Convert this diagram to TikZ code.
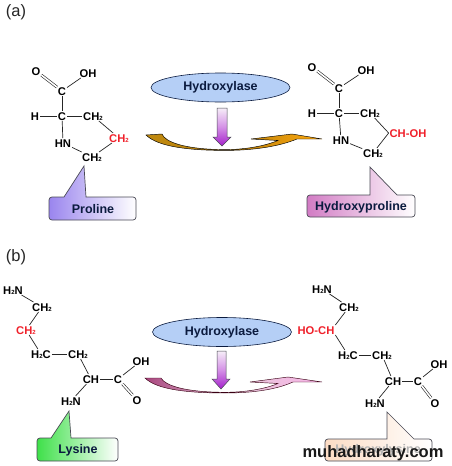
\documentclass[tikz,border=0pt]{standalone}
\usepackage{fontspec}
\setmainfont{Liberation Sans}
\definecolor{navy}{HTML}{0B1B3F}
\definecolor{edgegray}{HTML}{4A4A55}
\definecolor{ellfill}{HTML}{B5CFF6}
\definecolor{atomred}{HTML}{F0202A}
\definecolor{arrowtop}{HTML}{F6EEF8}
\definecolor{arrowmid}{HTML}{D490E6}
\definecolor{arrowbot}{HTML}{A41FCB}
\definecolor{goldL}{HTML}{C08A10}
\definecolor{goldM}{HTML}{B87E08}
\definecolor{goldR}{HTML}{FFAA10}
\definecolor{pinkL}{HTML}{A8467E}
\definecolor{pinkM}{HTML}{E8C8DA}
\definecolor{pinkR}{HTML}{F6B4E6}
\definecolor{boxP}{HTML}{9A85EE}
\definecolor{boxH}{HTML}{D27CC4}
\definecolor{boxL}{HTML}{3FE04A}
\definecolor{boxY}{HTML}{FCDCC4}
\newcommand{\two}{\raisebox{-0.3pt}{\fontsize{6}{6}\selectfont 2}}
\newcommand{\callout}[8]{% x1 y1 x2 y2 tip-x tip-y base-left base-right ; colour set by style
  \draw[callbox] (#1,#2+3) [rounded corners=3pt] -- (#1,#4) -- (#3,#4) -- (#3,#2) [sharp corners] -- (#8,#2) -- (#5,#6) -- (#7,#2) [rounded corners=3pt] -- (#1,#2) [sharp corners] -- cycle;}
\tikzset{
  atom/.style={font=\fontsize{11.2}{11.2}\selectfont\bfseries, text=black, inner sep=0.8pt, text height=8pt, text depth=0pt},
  redatom/.style={atom, text=atomred},
  bond/.style={draw=black!85, line width=0.7pt},
  dbl/.style={bond, double, double distance=1.6pt, line width=0.6pt},
  enz/.style={ellipse, draw=navy, line width=0.6pt, fill=ellfill, minimum width=139pt, minimum height=29pt, inner sep=0pt, font=\fontsize{12.5}{12.5}\selectfont\bfseries, text=navy},
  callbox/.style={draw=edgegray, line width=0.7pt},
  calltext/.style={font=\fontsize{12.5}{12.5}\selectfont\bfseries, text=navy, inner sep=0pt},
  downarrow/.style={draw=edgegray, line width=0.5pt, top color=arrowtop, bottom color=arrowbot, middle color=arrowmid},
  panel/.style={font=\fontsize{16.5}{16.5}\selectfont, text=black!85},
}
\usetikzlibrary{shapes.geometric}
\begin{document}
\begin{tikzpicture}[x=1pt,y=-1pt]
\useasboundingbox (0,0) rectangle (451,466);
\fill[white] (0,0) rectangle (451,466);

\node[panel] (la) at (16,12) {(a)};
\node[panel] (lb) at (16,257) {(b)};

% ---------- enzymes and arrows (a)
\node[enz] (enzA) at (220.5,87.5) {Hydroxylase};
\draw[downarrow] (217,108) -- (227,108) -- (227,137) -- (231,137) -- (222,146) -- (213,137) -- (217,137) -- cycle;
\draw[draw=black, line width=0.45pt, left color=goldL, right color=goldR, middle color=goldM]
  (146,135) -- (162,134)
  .. controls (165,142) and (185,149.5) .. (225,149.6)
  .. controls (245,149.6) and (265,146) .. (278,140.5)
  -- (251,139) -- (292,134) -- (322,139) -- (297,139)
  .. controls (285,144) and (262,150.4) .. (225,150.4)
  .. controls (190,150.4) and (158,147) .. (146,135) -- cycle;

% ---------- enzymes and arrows (b)
\node[enz] (enzB) at (222,332) {Hydroxylase};
\draw[downarrow] (217,351) -- (226,351) -- (226,379) -- (230,379) -- (221,389) -- (212,379) -- (217,379) -- cycle;
\draw[draw=black!70!purple, line width=0.45pt, left color=pinkL, right color=pinkR, middle color=pinkM]
  (145,378) -- (161,378)
  .. controls (165,385.5) and (185,392.2) .. (225,392.3)
  .. controls (245,392.3) and (265,389) .. (278,383.5)
  -- (250,382) -- (288,377) -- (322,382) -- (293,382)
  .. controls (282,387) and (262,393) .. (225,393)
  .. controls (190,393) and (157,390) .. (145,378) -- cycle;

% ---------- proline
\node[atom] (pO) at (36,71) {O};
\node[atom] (pOH) at (88,73) {OH};
\node[atom] (pC1) at (62,91) {C};
\node[atom] (pC2) at (62,116) {C};
\node[atom] (pH) at (35,116) {H};
\node[atom] (pCH2a) at (93,116) {CH\two};
\node[atom] (pHN) at (63,143) {HN};
\node[atom] (pCH2b) at (92,157) {CH\two};
\node[redatom] (pCH2r) at (119,138) {CH\two};
\draw[dbl] (pO) -- (pC1);
\draw[bond] (pC1) -- (pOH);
\draw[bond] (pC1) -- (pC2);
\draw[bond] (pH) -- (pC2);
\draw[bond] (pC2) -- (pCH2a);
\draw[bond] (pC2) -- (pHN);
\draw[bond] (pHN) -- (pCH2b);
\draw[bond] (pCH2b) -- (pCH2r);
\draw[bond] (pCH2a) -- (pCH2r);

% ---------- hydroxyproline
\node[atom] (hO) at (312,67) {O};
\node[atom] (hOH) at (366,70) {OH};
\node[atom] (hC1) at (339,88) {C};
\node[atom] (hC2) at (339,113) {C};
\node[atom] (hH) at (312,113) {H};
\node[atom] (hCH2a) at (370,113) {CH\two};
\node[atom] (hHN) at (341,140) {HN};
\node[atom] (hCH2b) at (373,153) {CH\two};
\node[redatom] (hCHOH) at (408,133) {CH-OH};
\draw[dbl] (hO) -- (hC1);
\draw[bond] (hC1) -- (hOH);
\draw[bond] (hC1) -- (hC2);
\draw[bond] (hH) -- (hC2);
\draw[bond] (hC2) -- (hCH2a);
\draw[bond] (hC2) -- (hHN);
\draw[bond] (hHN) -- (hCH2b);
\draw[bond] (hCH2b) -- (hCHOH.west);
\draw[bond] (hCH2a) -- (hCHOH.west);

% ---------- lysine
\node[atom] (lN1) at (13,290) {H\two N};
\node[atom] (lCa) at (42,307) {CH\two};
\node[redatom] (lCr) at (26,330) {CH\two};
\node[atom] (lCb) at (41,354) {H\two C};
\node[atom] (lCc) at (78,354) {CH\two};
\node[atom] (lCH) at (91,379) {CH};
\node[atom] (lC) at (118,379) {C};
\node[atom] (lOH) at (141,361) {OH};
\node[atom] (lO) at (137,400) {O};
\node[atom] (lN2) at (71,401) {H\two N};
\draw[bond] (lN1) -- (lCa);
\draw[bond] (lCa) -- (lCr);
\draw[bond] (lCr) -- (lCb);
\draw[bond] (lCb) -- (lCc);
\draw[bond] (lCc) -- (lCH);
\draw[bond] (lCH) -- (lC);
\draw[bond] (lC) -- (lOH);
\draw[dbl] (lC) -- (lO);
\draw[bond] (lCH) -- (lN2);

% ---------- hydroxylysine
\node[atom] (yN1) at (322,289) {H\two N};
\node[atom] (yCa) at (349,307) {CH\two};
\node[redatom] (yCr) at (316,330) {HO-CH};
\node[atom] (yCb) at (348,355) {H\two C};
\node[atom] (yCc) at (382,355) {CH\two};
\node[atom] (yCH) at (393,381) {CH};
\node[atom] (yC) at (418,381) {C};
\node[atom] (yOH) at (439,364) {OH};
\node[atom] (yO) at (435,403) {O};
\node[atom] (yN2) at (375,403) {H\two N};
\draw[bond] (yN1) -- (yCa);
\draw[bond] (yCa) -- (yCr.north east);
\draw[bond] (yCr.south east) -- (yCb);
\draw[bond] (yCb) -- (yCc);
\draw[bond] (yCc) -- (yCH);
\draw[bond] (yCH) -- (yC);
\draw[bond] (yC) -- (yOH);
\draw[dbl] (yC) -- (yO);
\draw[bond] (yCH) -- (yN2);

% ---------- callouts
\begin{scope}[callbox/.append style={left color=boxP, right color=white}]
\callout{49}{197}{136}{220}{84}{166}{64}{86}
\end{scope}
\node[calltext] (tP) at (93,209) {Proline};
\begin{scope}[callbox/.append style={left color=boxH, right color=white}]
\callout{307}{195}{415}{217}{370}{167}{370}{397}
\end{scope}
\node[calltext] (tH) at (361,207) {Hydroxyproline};
\begin{scope}[callbox/.append style={left color=boxL, right color=white}]
\callout{37}{438}{118}{461}{69}{411}{51}{71}
\end{scope}
\node[calltext] (tL) at (78,450) {Lysine};
\begin{scope}[callbox/.append style={left color=boxY, right color=white}]
\callout{325}{439}{432}{461}{387}{412}{387}{414}
\end{scope}
\node[calltext, text=black!30] (tY) at (378,450) {Hydroxylysine};
\node[font=\fontsize{16.5}{16.5}\selectfont\bfseries, text=black!90, inner sep=0pt] (wm) at (373,453) {muhadharaty.com};
\end{tikzpicture}
\end{document}
